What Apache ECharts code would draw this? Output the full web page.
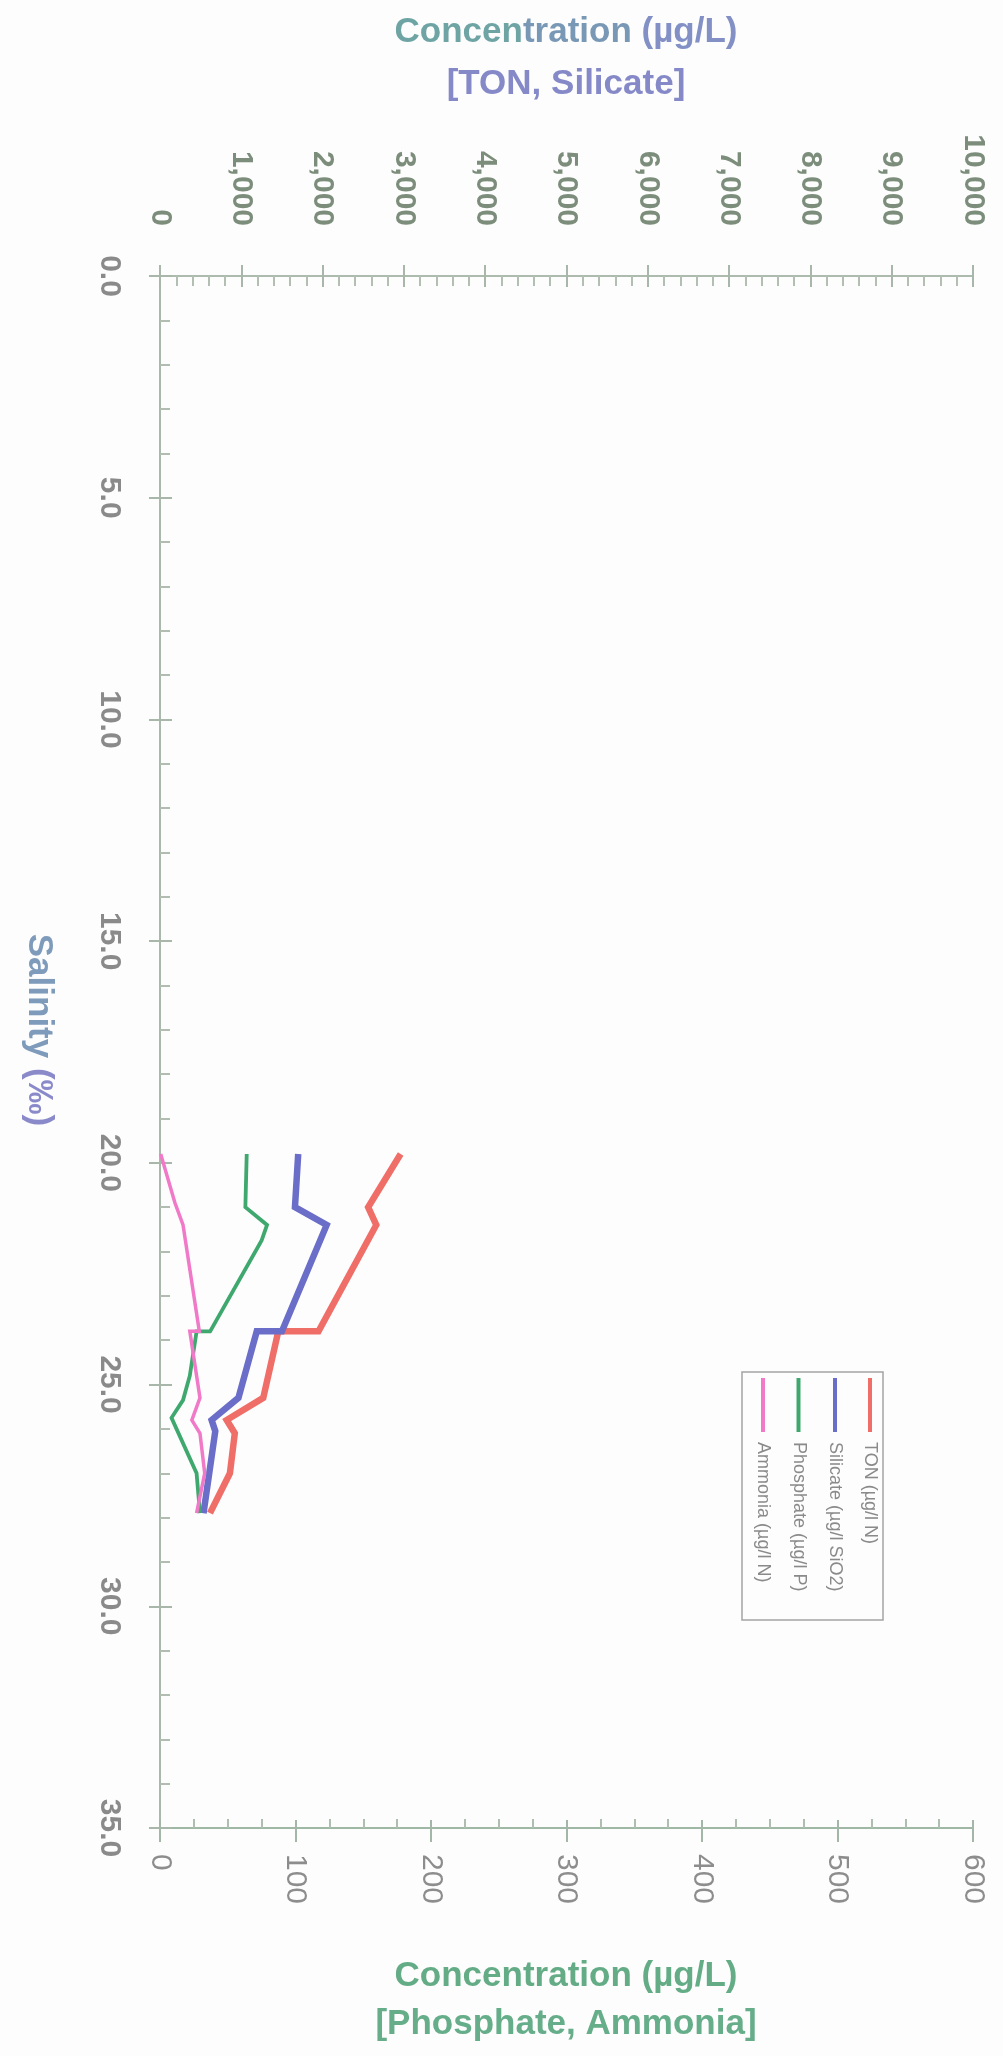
<!DOCTYPE html>
<html>
<head>
<meta charset="utf-8">
<script src="https://cdn.jsdelivr.net/npm/echarts@6/dist/echarts.min.js"></script>
<style>
  html, body { margin: 0; padding: 0; background: #fdfdfd; }
  #chart { width: 1003px; height: 2056px; }
</style>
</head>
<body>
<div id="chart"></div>
<script>
// Sample salinity (‰) and concentration (µg/L) for each determinand
const tonSalinity       = [19.8, 21.0, 21.4, 23.8, 23.8, 25.3, 25.8, 26.1, 27.0, 27.9];
const tonValues         = [2960, 2560, 2660, 1950, 1455, 1270, 820, 920, 860, 615];

const silicateSalinity  = [19.8, 21.0, 21.4, 23.8, 23.8, 25.3, 25.8, 26.05, 27.9];
const silicateValues    = [1700, 1660, 2050, 1500, 1190, 965, 635, 680, 535];

const phosphateSalinity = [19.8, 21.0, 21.4, 21.75, 23.8, 23.8, 24.8, 25.35, 25.75, 27.0, 27.9];
const phosphateValues   = [64, 63, 79, 75, 37, 27, 22, 17, 8.5, 27, 29.5];

const ammoniaSalinity   = [19.8, 20.9, 21.4, 23.8, 23.8, 25.3, 25.8, 26.1, 27.0, 27.9];
const ammoniaValues     = [0.5, 11, 17, 29, 22, 29.5, 23.5, 29.5, 33, 27];

const seriesNames  = ['TON (µg/l N)', 'Silicate (µg/l SiO2)', 'Phosphate (µg/l P)', 'Ammonia (µg/l N)'];
const seriesColors = ['#f06e68', '#6a6ec8', '#3fa86e', '#f079c8'];
const seriesWidths = [6.5, 6.5, 3.8, 3.5];

const topTitle    = ['Concentration (µg/L)', '[TON, Silicate]'];
const bottomTitle = ['Concentration (µg/L)', '[Phosphate, Ammonia]'];
const yTitle      = 'Salinity (‰)';

const FONT = '"Liberation Sans", Arial, sans-serif';
const pair = (xs, ys) => xs.map((s, i) => [ys[i], s]);

const chart = echarts.init(document.getElementById('chart'), null, { renderer: 'canvas' });

const axisLine = (c) => ({ show: true, lineStyle: { color: c, width: 2 } });

const option = {
  backgroundColor: '#fdfdfd',
  animation: false,
  grid: { left: 160, right: 30, top: 276, bottom: 228, containLabel: false },
  xAxis: [
    { // TON / Silicate scale, major ticks outward with labels
      type: 'value', position: 'top', min: 0, max: 10000, interval: 1000,
      axisLine: axisLine('#adbaae'),
      axisTick: { show: true, inside: false, length: 11, lineStyle: { color: '#a9b6aa', width: 2 } },
      axisLabel: {
        rotate: -90, margin: 50, fontSize: 30, fontWeight: 'bold', fontFamily: FONT, color: '#7c8e7b',
        formatter: v => v.toLocaleString('en-US')
      },
      splitLine: { show: false }
    },
    { // TON / Silicate scale, inward ticks and minor ticks
      type: 'value', position: 'top', min: 0, max: 10000, interval: 1000,
      axisLine: { show: false },
      axisTick: { show: true, inside: true, length: 11, lineStyle: { color: '#a9b6aa', width: 2 } },
      minorTick: { show: true, splitNumber: 5, length: 10, lineStyle: { color: '#b4bfb4', width: 2 } },
      axisLabel: { show: false }, splitLine: { show: false }
    },
    { // Phosphate / Ammonia scale, major ticks outward with labels
      type: 'value', position: 'bottom', min: 0, max: 600, interval: 100,
      axisLine: axisLine('#9fb8a5'),
      axisTick: { show: true, inside: false, length: 14, lineStyle: { color: '#a3b6a8', width: 2 } },
      axisLabel: {
        rotate: -90, margin: 26, fontSize: 30, fontFamily: FONT, color: '#8d8d8d'
      },
      splitLine: { show: false }
    },
    { // Phosphate / Ammonia scale, inward ticks and minor ticks
      type: 'value', position: 'bottom', min: 0, max: 600, interval: 100,
      axisLine: { show: false },
      axisTick: { show: true, inside: true, length: 8, lineStyle: { color: '#a3b6a8', width: 2 } },
      minorTick: { show: true, splitNumber: 4, length: 9, lineStyle: { color: '#aebfb2', width: 2 } },
      axisLabel: { show: false }, splitLine: { show: false }
    }
  ],
  yAxis: [
    { // salinity, major ticks outward with labels
      type: 'value', position: 'left', inverse: true, min: 0, max: 35, interval: 5,
      axisLine: axisLine('#a9b9ab'),
      axisTick: { show: true, inside: false, length: 11, lineStyle: { color: '#a9b6aa', width: 2 } },
      axisLabel: {
        rotate: -90, margin: 36, fontSize: 30, fontWeight: 'bold', fontFamily: FONT, color: '#8a8a8a',
        formatter: v => v.toFixed(1)
      },
      splitLine: { show: false }
    },
    { // salinity, inward ticks and minor ticks
      type: 'value', position: 'left', inverse: true, min: 0, max: 35, interval: 5,
      axisLine: { show: false },
      axisTick: { show: true, inside: true, length: 12, lineStyle: { color: '#a9b6aa', width: 2 } },
      minorTick: { show: true, splitNumber: 5, length: 10, lineStyle: { color: '#b2bdb2', width: 2 } },
      axisLabel: { show: false }, splitLine: { show: false }
    }
  ],
  series: [
    { name: seriesNames[0], data: pair(tonSalinity, tonValues), xAxisIndex: 0 },
    { name: seriesNames[1], data: pair(silicateSalinity, silicateValues), xAxisIndex: 0 },
    { name: seriesNames[2], data: pair(phosphateSalinity, phosphateValues), xAxisIndex: 2 },
    { name: seriesNames[3], data: pair(ammoniaSalinity, ammoniaValues), xAxisIndex: 2 }
  ].map((s, i) => Object.assign(s, {
    type: 'line', yAxisIndex: 0, symbol: 'none', z: 3 + i,
    lineStyle: { color: seriesColors[i], width: seriesWidths[i], join: 'miter' },
    itemStyle: { color: seriesColors[i] }
  })),
  graphic: [
    // top axis title
    {
      type: 'text', x: 566, y: 32, z: 10,
      style: {
        text: '{a|' + topTitle[0].slice(0, 6) + '}{b|' + topTitle[0].slice(6, 14) + '}{c|' + topTitle[0].slice(14) + '}',
        textAlign: 'center', textVerticalAlign: 'middle',
        font: 'bold 35px ' + FONT,
        rich: {
          a: { fill: '#6fa4a4', font: 'bold 35px ' + FONT },
          b: { fill: '#7898b6', font: 'bold 35px ' + FONT },
          c: { fill: '#8290c6', font: 'bold 35px ' + FONT }
        }
      }
    },
    {
      type: 'text', x: 566, y: 84, z: 10,
      style: { text: topTitle[1], textAlign: 'center', textVerticalAlign: 'middle',
               font: 'bold 35px ' + FONT, fill: '#8589c8' }
    },
    // salinity axis title, reading downwards
    {
      type: 'text', x: 39, y: 1030, rotation: -Math.PI / 2, z: 10,
      style: {
        text: '{a|' + yTitle.slice(0, 8) + '}{b|' + yTitle.slice(8) + '}',
        textAlign: 'center', textVerticalAlign: 'middle',
        font: 'bold 35px ' + FONT,
        rich: {
          a: { fill: '#7f9bbb', font: 'bold 35px ' + FONT },
          b: { fill: '#8a8acb', font: 'bold 35px ' + FONT }
        }
      }
    },
    // bottom axis title
    {
      type: 'text', x: 566, y: 1976, z: 10,
      style: { text: bottomTitle[0], textAlign: 'center', textVerticalAlign: 'middle',
               font: 'bold 35px ' + FONT, fill: '#63ac86' }
    },
    {
      type: 'text', x: 566, y: 2024, z: 10,
      style: { text: bottomTitle[1], textAlign: 'center', textVerticalAlign: 'middle',
               font: 'bold 35px ' + FONT, fill: '#66ad8a' }
    },
    // legend box, turned to read downwards
    {
      type: 'group', x: 883, y: 1372, rotation: -Math.PI / 2, z: 20,
      children: [
        { type: 'rect', shape: { x: 0, y: 0, width: 248, height: 141 },
          style: { fill: '#fdfdfd', stroke: '#a4a4a4', lineWidth: 1.5 } }
      ].concat(...seriesNames.map((name, i) => {
        const yy = [13, 48, 84.5, 120][i];
        return [
          { type: 'line', shape: { x1: 6, y1: yy, x2: 60, y2: yy },
            style: { stroke: seriesColors[i], lineWidth: 4 } },
          { type: 'text', x: 70, y: yy,
            style: { text: name, font: '18px ' + FONT, fill: '#8a8a8a', textVerticalAlign: 'middle' } }
        ];
      }))
    }
  ]
};

chart.setOption(option);
</script>
</body>
</html>
